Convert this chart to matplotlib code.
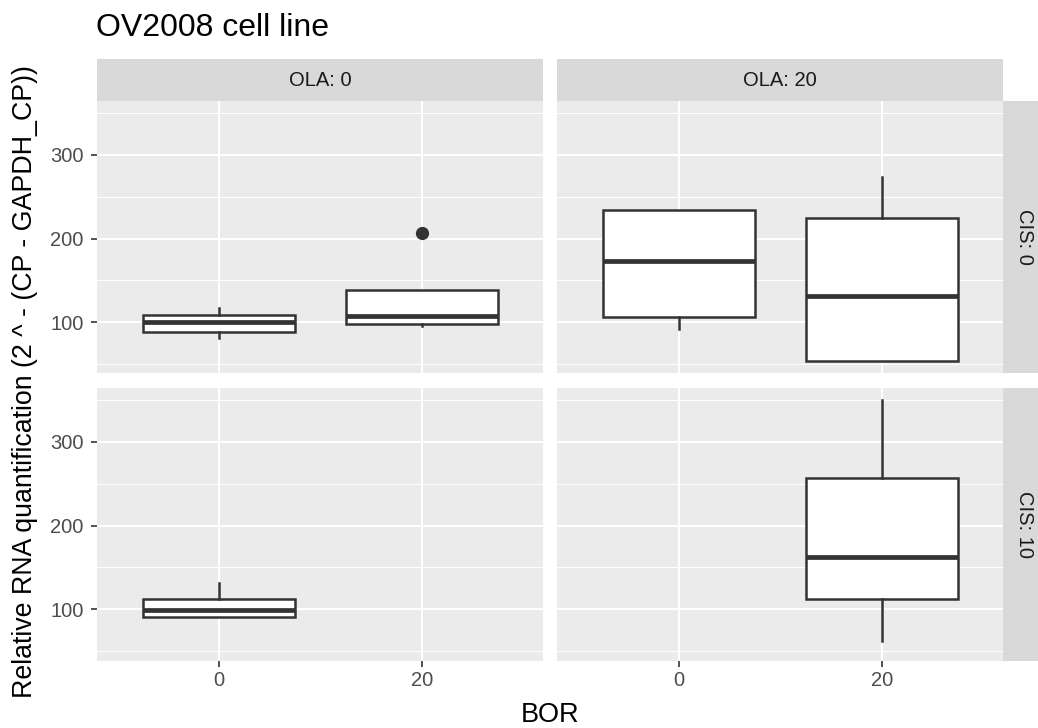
import matplotlib
matplotlib.use("Agg")
import matplotlib.pyplot as plt
import numpy as np

plt.rcParams['font.family'] = ['Liberation Sans', 'DejaVu Sans']

# ---- data ----
title = "OV2008 cell line"
x_label = "BOR"
y_label = "Relative RNA quantification (2 ^ - (CP - GAPDH_CP))"
ola_levels = [0, 20]
cis_levels = [0, 10]
bor_levels = [0, 20]
bor_tick_labels = ["0", "20"]
y_ticks = [100, 200, 300]
y_minor = [50, 150, 250, 350]

box_ola = [0, 0, 20, 20, 0, 20]
box_cis = [0, 0, 0, 0, 10, 10]
box_bor = [0, 20, 0, 20, 0, 20]
box_whislo = [81, 96, 92, 54, 91.6, 63]
box_q1 = [89, 98, 107, 54, 91.6, 112]
box_med = [100, 108, 173, 131, 99, 163]
box_q3 = [109, 139, 233.5, 225, 112, 256]
box_whishi = [117, 139, 233.5, 273, 132, 349]
box_fliers = [[], [207], [], [], [], []]

# ---- layout ----
W, H = 1038, 728
fig = plt.figure(figsize=(W / 100, H / 100), dpi=100)

panel_x = [97.3, 557.3]
panel_w = 446.0
panel_y = [101.0, 388.0]
panel_h = 272.5
strip_t = 42.0

def fx(px):
    return px / W

def fy(py):
    return 1 - py / H

all_vals = box_whislo + box_whishi + [v for f in box_fliers for v in f]
lo, hi = min(all_vals), max(all_vals)
pad = 0.05 * (hi - lo)
ylim = (lo - pad, hi + pad)

tick_col = '#4D4D4D'
line_col = '#333333'
for r, cis in enumerate(cis_levels):
    for c, ola in enumerate(ola_levels):
        ax = fig.add_axes([fx(panel_x[c]), fy(panel_y[r] + panel_h), fx(panel_w), panel_h / H])
        ax.set_facecolor('#EBEBEB')
        for s in ax.spines.values():
            s.set_visible(False)
        ax.set_xlim(0.4, 2.6)
        ax.set_ylim(*ylim)
        ax.set_yticks(y_ticks)
        ax.set_yticks(y_minor, minor=True)
        ax.set_xticks([1, 2])
        ax.grid(True, which='major', color='white', lw=1.5)
        ax.grid(True, which='minor', axis='y', color='white', lw=0.75)
        ax.set_axisbelow(True)
        ax.tick_params(which='minor', length=0)
        ax.tick_params(which='major', length=4.3, width=1.2, color='#333333',
                       labelcolor=tick_col, labelsize=14.5)
        ax.tick_params(axis='x', pad=3.0)
        ax.tick_params(axis='y', pad=5.5)
        if c == 0:
            ax.set_yticklabels([str(v) for v in y_ticks])
        else:
            ax.tick_params(axis='y', length=0, labelleft=False)
        if r == 1:
            ax.set_xticklabels(bor_tick_labels)
        else:
            ax.tick_params(axis='x', length=0, labelbottom=False)

        stats = []
        pos = []
        for i in range(len(box_ola)):
            if box_ola[i] == ola and box_cis[i] == cis:
                stats.append(dict(med=box_med[i], q1=box_q1[i], q3=box_q3[i],
                                  whislo=box_whislo[i], whishi=box_whishi[i],
                                  fliers=box_fliers[i]))
                pos.append(bor_levels.index(box_bor[i]) + 1)
        if stats:
            ax.bxp(stats, positions=pos, widths=0.75, showcaps=False,
                   patch_artist=True, manage_ticks=False,
                   boxprops=dict(facecolor='white', edgecolor=line_col, lw=1.8),
                   whiskerprops=dict(color=line_col, lw=1.8),
                   medianprops=dict(color=line_col, lw=3.4, solid_capstyle='butt'),
                   flierprops=dict(marker='o', markerfacecolor=line_col,
                                   markeredgecolor=line_col, markersize=8.5))

        # top strips
        if r == 0:
            sax = fig.add_axes([fx(panel_x[c]), fy(panel_y[0]), fx(panel_w), strip_t / H])
            sax.set_facecolor('#D9D9D9')
            sax.set_xticks([]); sax.set_yticks([])
            for s in sax.spines.values():
                s.set_visible(False)
            sax.text(0.5, 0.5, f"OLA: {ola}", ha='center', va='center',
                     fontsize=14.5, color='#1A1A1A', transform=sax.transAxes)
        # right strips
        if c == 1:
            sax = fig.add_axes([fx(panel_x[1] + panel_w), fy(panel_y[r] + panel_h),
                                fx(strip_t), panel_h / H])
            sax.set_facecolor('#D9D9D9')
            sax.set_xticks([]); sax.set_yticks([])
            for s in sax.spines.values():
                s.set_visible(False)
            sax.text(0.5, 0.5, f"CIS: {cis}", ha='center', va='center', rotation=-90,
                     fontsize=14.5, color='#1A1A1A', transform=sax.transAxes)

fig.text(fx(96.5), fy(36.5), title, fontsize=23, color='black', ha='left', va='baseline')
fig.text(fx(550), fy(722.5), x_label, fontsize=19.5, color='black', ha='center', va='baseline')
fig.text(fx(25.5), fy(381.5), y_label, fontsize=19.3, color='black', ha='center', va='center',
         rotation=90)

fig.savefig("out.png", dpi=100)
